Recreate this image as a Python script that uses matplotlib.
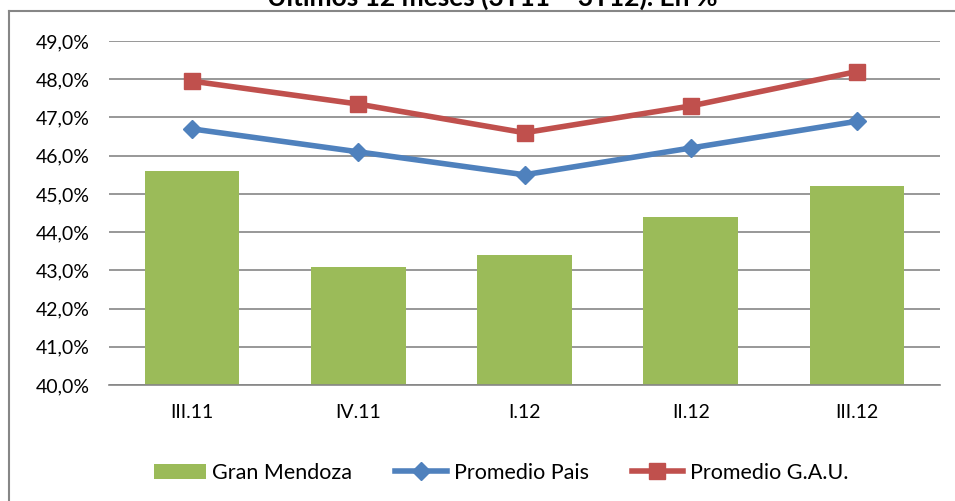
import numpy as np
import matplotlib.pyplot as plt
from matplotlib.ticker import FuncFormatter

# datos
categorias = ['III.11', 'IV.11', 'I.12', 'II.12', 'III.12']
gran_mendoza = [45.6, 43.1, 43.4, 44.4, 45.2]
promedio_pais = [46.7, 46.1, 45.5, 46.2, 46.9]
promedio_gau = [47.95, 47.35, 46.6, 47.3, 48.2]

verde = '#9BBB59'
azul = '#4F81BD'
rojo = '#C0504D'
gris = '#868686'

plt.rcParams['font.family'] = ['Lato', 'DejaVu Sans']

fig = plt.figure(figsize=(9.55, 5.01), dpi=100)
ax = fig.add_axes([109/955, 116/501, 831/955, 344/501])

x = np.arange(len(categorias))
barras = ax.bar(x, gran_mendoza, width=0.57, color=verde, label='Gran Mendoza', zorder=2)
l1, = ax.plot(x, promedio_pais, color=azul, lw=4, marker='D', ms=9,
              label='Promedio Pais', zorder=3)
l2, = ax.plot(x, promedio_gau, color=rojo, lw=4, marker='s', ms=11,
              label='Promedio G.A.U.', zorder=3)

ax.set_xlim(-0.5, len(categorias) - 0.5)
ax.set_ylim(40, 49)
ax.set_yticks(np.arange(40, 49.5, 1))
ax.yaxis.set_major_formatter(FuncFormatter(lambda v, p: f'{v:.1f}%'.replace('.', ',')))
ax.set_xticks(x)
ax.set_xticklabels(categorias)
ax.tick_params(axis='both', length=0, labelsize=14, colors='black')
ax.tick_params(axis='y', pad=14)
ax.tick_params(axis='x', pad=14)
ax.grid(axis='y', color=gris, lw=1.2, zorder=0)
for s in ['top', 'right', 'left']:
    ax.spines[s].set_visible(False)
ax.spines['bottom'].set_color(gris)
ax.spines['bottom'].set_linewidth(1.2)

ax.legend([barras, l1, l2], ['Gran Mendoza', 'Promedio Pais', 'Promedio G.A.U.'],
          loc='center', bbox_to_anchor=(0.472, -0.255), ncol=3, frameon=False,
          fontsize=15.5, handlelength=2.4, handletextpad=0.3, columnspacing=2.0)

# marco del grafico (solo izquierda y arriba visibles)
fig.add_artist(plt.Line2D([9/955, 9/955], [0, 1 - 11/501], color=gris, lw=1.5))
fig.add_artist(plt.Line2D([9/955, 1], [1 - 11/501, 1 - 11/501], color=gris, lw=1.5))

# titulo cortado arriba, como en el original
fig.text(0.515, 1 - 6/501, 'Últimos 12 meses (3T11 – 3T12). En %', ha='center',
         va='baseline', fontsize=19, fontweight='bold')

plt.savefig('out.png', dpi=100)
